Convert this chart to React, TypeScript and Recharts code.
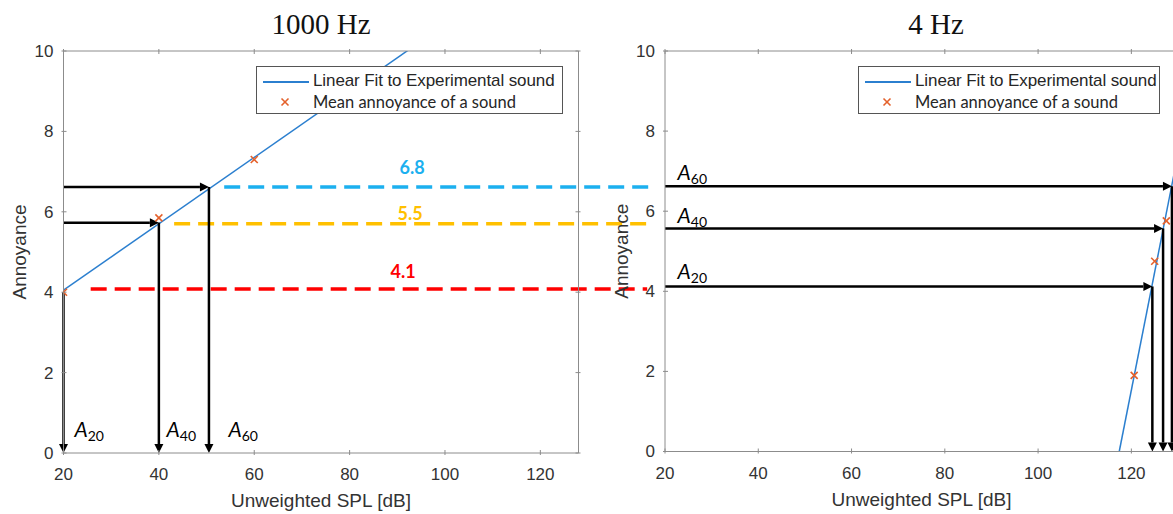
import React from 'react';
import {
  ComposedChart,
  Line,
  Scatter,
  XAxis,
  YAxis,
  ReferenceLine,
  ReferenceDot,
  Legend,
} from 'recharts';

// ---- 1000 Hz panel ----
const fitLeftX = [20, 128];
const fitLeftY = [4.05, 12.97];
const meanLeftX = [20, 40, 60];
const meanLeftY = [4.0, 5.85, 7.3];

// ---- 4 Hz panel ----
const fitRightX = [117.4, 130];
const fitRightY = [0, 7.43];
const meanRightX = [120.6, 125.0, 127.5];
const meanRightY = [1.9, 4.75, 5.76];

const xTicks = [20, 40, 60, 80, 100, 120];
const yTicks = [0, 2, 4, 6, 8, 10];

// A20 / A40 / A60 levels
const levelNames = ['20', '40', '60'];
const leftLevelSpl = [20, 40, 50.5];
const leftLevelAnn = [4.0, 5.73, 6.62];
const rightLevelSpl = [124.5, 126.8, 128.7];
const rightLevelAnn = [4.12, 5.57, 6.62];

// dashed lines carrying annoyance from 1000 Hz over to 4 Hz
const transferText = ['4.1', '5.5', '6.8'];
const transferAnn = [4.08, 5.7, 6.62];
const transferStart = [25.7, 43.2, 53.7];
const transferEnd = [142.4, 143.2, 142.8];

// annotation placement (data units)
const transferLabelX = [91.2, 92.7, 93.1];
const transferLabelY = [4.51, 5.95, 7.09];
const leftLevelLabelX = [22.3, 41.6, 54.6];
const leftLevelLabelY = 0.4;
const rightLevelLabelX = 22.7;
const rightLevelLabelY = [4.3, 5.71, 6.78];

const FIT = '#2b7fcf';
const MARK = '#e4612c';
const FRAME = '#8c8c8c';
const TICK_TEXT = '#333';
const TRANSFER_COLORS = ['#ff0000', '#ffc000', '#1cb0ef'];
const SANS = '"Liberation Sans", Arial, sans-serif';
const CALIBRI = 'Lato, "Open Sans", sans-serif';

const toPoints = (xs: number[], ys: number[]) => xs.map((x, i) => ({ x, y: ys[i] }));

const BottomTick = (p: any) => (
  <g>
    <line x1={p.x} x2={p.x} y1={p.y} y2={p.y - 5} stroke={FRAME} />
    <text x={p.x} y={p.y + 25} textAnchor="middle" fontSize={17} fill={TICK_TEXT} fontFamily={SANS}>
      {p.payload.value}
    </text>
  </g>
);
const TopTick = (p: any) => <line x1={p.x} x2={p.x} y1={p.y} y2={p.y + 5} stroke={FRAME} />;
const LeftTick = (p: any) => (
  <g>
    <line x1={p.x} x2={p.x + 5} y1={p.y} y2={p.y} stroke={FRAME} />
    <text x={p.x - 8} y={p.y} dy="0.35em" textAnchor="end" fontSize={17} fill={TICK_TEXT} fontFamily={SANS}>
      {p.payload.value}
    </text>
  </g>
);
const RightTick = (p: any) => <line x1={p.x} x2={p.x - 5} y1={p.y} y2={p.y} stroke={FRAME} />;

const Cross = (p: any) => {
  const { cx, cy } = p;
  const s = 3.5;
  return (
    <g stroke={MARK} strokeWidth={1.6}>
      <line x1={cx - s} y1={cy - s} x2={cx + s} y2={cy + s} />
      <line x1={cx - s} y1={cy + s} x2={cx + s} y2={cy - s} />
    </g>
  );
};

const Arrow = (p: any) => {
  const { x1, y1, x2, y2 } = p;
  const dx = x2 - x1;
  const dy = y2 - y1;
  const len = Math.hypot(dx, dy) || 1;
  const ux = dx / len;
  const uy = dy / len;
  const head = 9;
  const half = 4.5;
  const bx = x2 - ux * head;
  const by = y2 - uy * head;
  return (
    <g>
      <line x1={x1} y1={y1} x2={bx} y2={by} stroke="#000" strokeWidth={2.5} />
      <polygon
        points={`${x2},${y2} ${bx - uy * half},${by + ux * half} ${bx + uy * half},${by - ux * half}`}
        fill="#000"
      />
    </g>
  );
};

const levelLabel = (name: string) => (p: any) => (
  <text x={p.cx} y={p.cy} fontFamily={CALIBRI} fill="#000">
    <tspan fontSize={21} fontStyle="italic">A</tspan>
    <tspan fontSize={14} dy={4}>{name}</tspan>
  </text>
);

const valueLabel = (text: string, color: string) => (p: any) => (
  <text x={p.cx} y={p.cy} dy="0.35em" textAnchor="middle" fontFamily={CALIBRI} fontWeight={700} fontSize={18} fill={color}>
    {text}
  </text>
);

const axisTitle = (text: string) => (p: any) => {
  const vb = p.viewBox;
  return (
    <text x={vb.x + vb.width / 2} y={vb.y + 54} textAnchor="middle" fontSize={19} fill={TICK_TEXT} fontFamily={SANS}>
      {text}
    </text>
  );
};
const yTitle = (p: any) => {
  const vb = p.viewBox;
  const cx = vb.x + vb.width - 44;
  const cy = vb.y + vb.height / 2;
  return (
    <text x={cx} y={cy} dy="0.35em" textAnchor="middle" fontSize={19} fill={TICK_TEXT} fontFamily={SANS}
      transform={`rotate(-90 ${cx} ${cy})`}>
      Annoyance
    </text>
  );
};

const LegendBox = ({ width }: { width: number }) => (
  <div style={{ width, height: 48, boxSizing: 'border-box', border: '1px solid #555', background: '#fff', position: 'relative', color: '#262626' }}>
    <svg width={54} height={46} style={{ position: 'absolute', left: 0, top: 0 }}>
      <line x1={6} x2={52} y1={15} y2={15} stroke={FIT} strokeWidth={2} />
      <Cross cx={28} cy={35} />
    </svg>
    <div style={{ position: 'absolute', left: 56, top: 4, fontFamily: SANS, fontSize: 17, lineHeight: '20px', whiteSpace: 'nowrap', letterSpacing: -0.1 }}>
      Linear Fit to Experimental sound
    </div>
    <div style={{ position: 'absolute', left: 56, top: 25, fontFamily: CALIBRI, fontSize: 16.5, lineHeight: '20px', whiteSpace: 'nowrap' }}>
      Mean annoyance of a sound
    </div>
  </div>
);

// four axes form the box; each is 1px thick so it renders but takes no real space
function Axes(domainMax: number) {
  return [
    <XAxis key="xb" dataKey="x" type="number" domain={[20, domainMax]} ticks={xTicks} interval={0}
      allowDataOverflow height={1} tickSize={0} tickLine={false} axisLine={{ stroke: FRAME }}
      tick={BottomTick} label={{ content: axisTitle('Unweighted SPL [dB]') }} />,
    <XAxis key="xt" xAxisId="top" orientation="top" dataKey="x" type="number" domain={[20, domainMax]}
      ticks={xTicks} interval={0} allowDataOverflow height={1} tickSize={0} tickLine={false}
      axisLine={{ stroke: FRAME }} tick={TopTick} />,
    <YAxis key="yl" dataKey="y" type="number" domain={[0, 10]} ticks={yTicks} interval={0}
      allowDataOverflow width={1} tickSize={0} tickLine={false} axisLine={{ stroke: FRAME }}
      tick={LeftTick} label={{ content: yTitle }} />,
    <YAxis key="yr" yAxisId="right" orientation="right" dataKey="y" type="number" domain={[0, 10]}
      ticks={yTicks} interval={0} allowDataOverflow width={1} tickSize={0} tickLine={false}
      axisLine={{ stroke: FRAME }} tick={RightTick} />,
  ];
}

function LeftPanel() {
  return (
    <ComposedChart width={670} height={514} margin={{ top: 50, right: 90.5, bottom: 60, left: 62.5 }}>
      {Axes(128)}
      {transferAnn.map((a, i) => (
        <ReferenceLine key={`t${i}`} segment={[{ x: transferStart[i], y: a }, { x: transferEnd[i], y: a }]}
          ifOverflow="visible" stroke={TRANSFER_COLORS[i]} strokeWidth={3.5} strokeDasharray="16 8" />
      ))}
      {transferText.map((t, i) => (
        <ReferenceDot key={`tl${i}`} x={transferLabelX[i]} y={transferLabelY[i]} ifOverflow="visible"
          shape={valueLabel(t, TRANSFER_COLORS[i])} />
      ))}
      <Line data={toPoints(fitLeftX, fitLeftY)} dataKey="y" stroke={FIT} strokeWidth={1.5} dot={false}
        isAnimationActive={false} />
      <Scatter data={toPoints(meanLeftX, meanLeftY)} dataKey="y" shape={Cross} isAnimationActive={false} />
      {leftLevelSpl.map((s, i) =>
        i === 0 ? null : (
          <ReferenceLine key={`h${i}`} segment={[{ x: 20, y: leftLevelAnn[i] }, { x: s, y: leftLevelAnn[i] }]}
            ifOverflow="visible" shape={Arrow} />
        ),
      )}
      {leftLevelSpl.map((s, i) => (
        <ReferenceLine key={`v${i}`} segment={[{ x: s, y: leftLevelAnn[i] }, { x: s, y: 0 }]}
          ifOverflow="visible" shape={Arrow} />
      ))}
      {levelNames.map((n, i) => (
        <ReferenceDot key={`ll${i}`} x={leftLevelLabelX[i]} y={leftLevelLabelY} ifOverflow="visible"
          shape={levelLabel(n)} />
      ))}
      <Legend layout="horizontal" verticalAlign="middle" align="center"
        wrapperStyle={{ left: 256, top: 66, width: 307, height: 48 }} content={() => <LegendBox width={307} />} />
    </ComposedChart>
  );
}

function RightPanel() {
  return (
    <ComposedChart width={600} height={514} margin={{ top: 50, right: 21, bottom: 61.5, left: 64 }}>
      {Axes(130)}
      <Line data={toPoints(fitRightX, fitRightY)} dataKey="y" stroke={FIT} strokeWidth={1.5} dot={false}
        isAnimationActive={false} />
      <Scatter data={toPoints(meanRightX, meanRightY)} dataKey="y" shape={Cross} isAnimationActive={false} />
      {rightLevelSpl.map((s, i) => (
        <ReferenceLine key={`h${i}`} segment={[{ x: 20, y: rightLevelAnn[i] }, { x: s, y: rightLevelAnn[i] }]}
          ifOverflow="visible" shape={Arrow} />
      ))}
      {rightLevelSpl.map((s, i) => (
        <ReferenceLine key={`v${i}`} segment={[{ x: s, y: rightLevelAnn[i] }, { x: s, y: 0 }]}
          ifOverflow="visible" shape={Arrow} />
      ))}
      {levelNames.map((n, i) => (
        <ReferenceDot key={`rl${i}`} x={rightLevelLabelX} y={rightLevelLabelY[i]} ifOverflow="visible"
          shape={levelLabel(n)} />
      ))}
      <Legend layout="horizontal" verticalAlign="middle" align="center"
        wrapperStyle={{ left: 258, top: 66, width: 302, height: 48 }} content={() => <LegendBox width={302} />} />
    </ComposedChart>
  );
}

const titleStyle = (center: number): React.CSSProperties => ({
  position: 'absolute',
  left: center - 100,
  width: 200,
  top: 8,
  lineHeight: '32px',
  textAlign: 'center',
  fontFamily: '"Liberation Serif", "Times New Roman", serif',
  fontSize: 29,
  color: '#111',
});

export default function App() {
  return (
    <div style={{ position: 'fixed', left: 0, top: 0, width: 1173, height: 514, overflow: 'hidden', background: '#fff' }}>
      <div style={{ position: 'absolute', left: 0, top: 0 }}>
        <LeftPanel />
      </div>
      <div style={{ position: 'absolute', left: 600, top: 0 }}>
        <RightPanel />
      </div>
      <div style={titleStyle(321)}>1000 Hz</div>
      <div style={titleStyle(936)}>4 Hz</div>
    </div>
  );
}
